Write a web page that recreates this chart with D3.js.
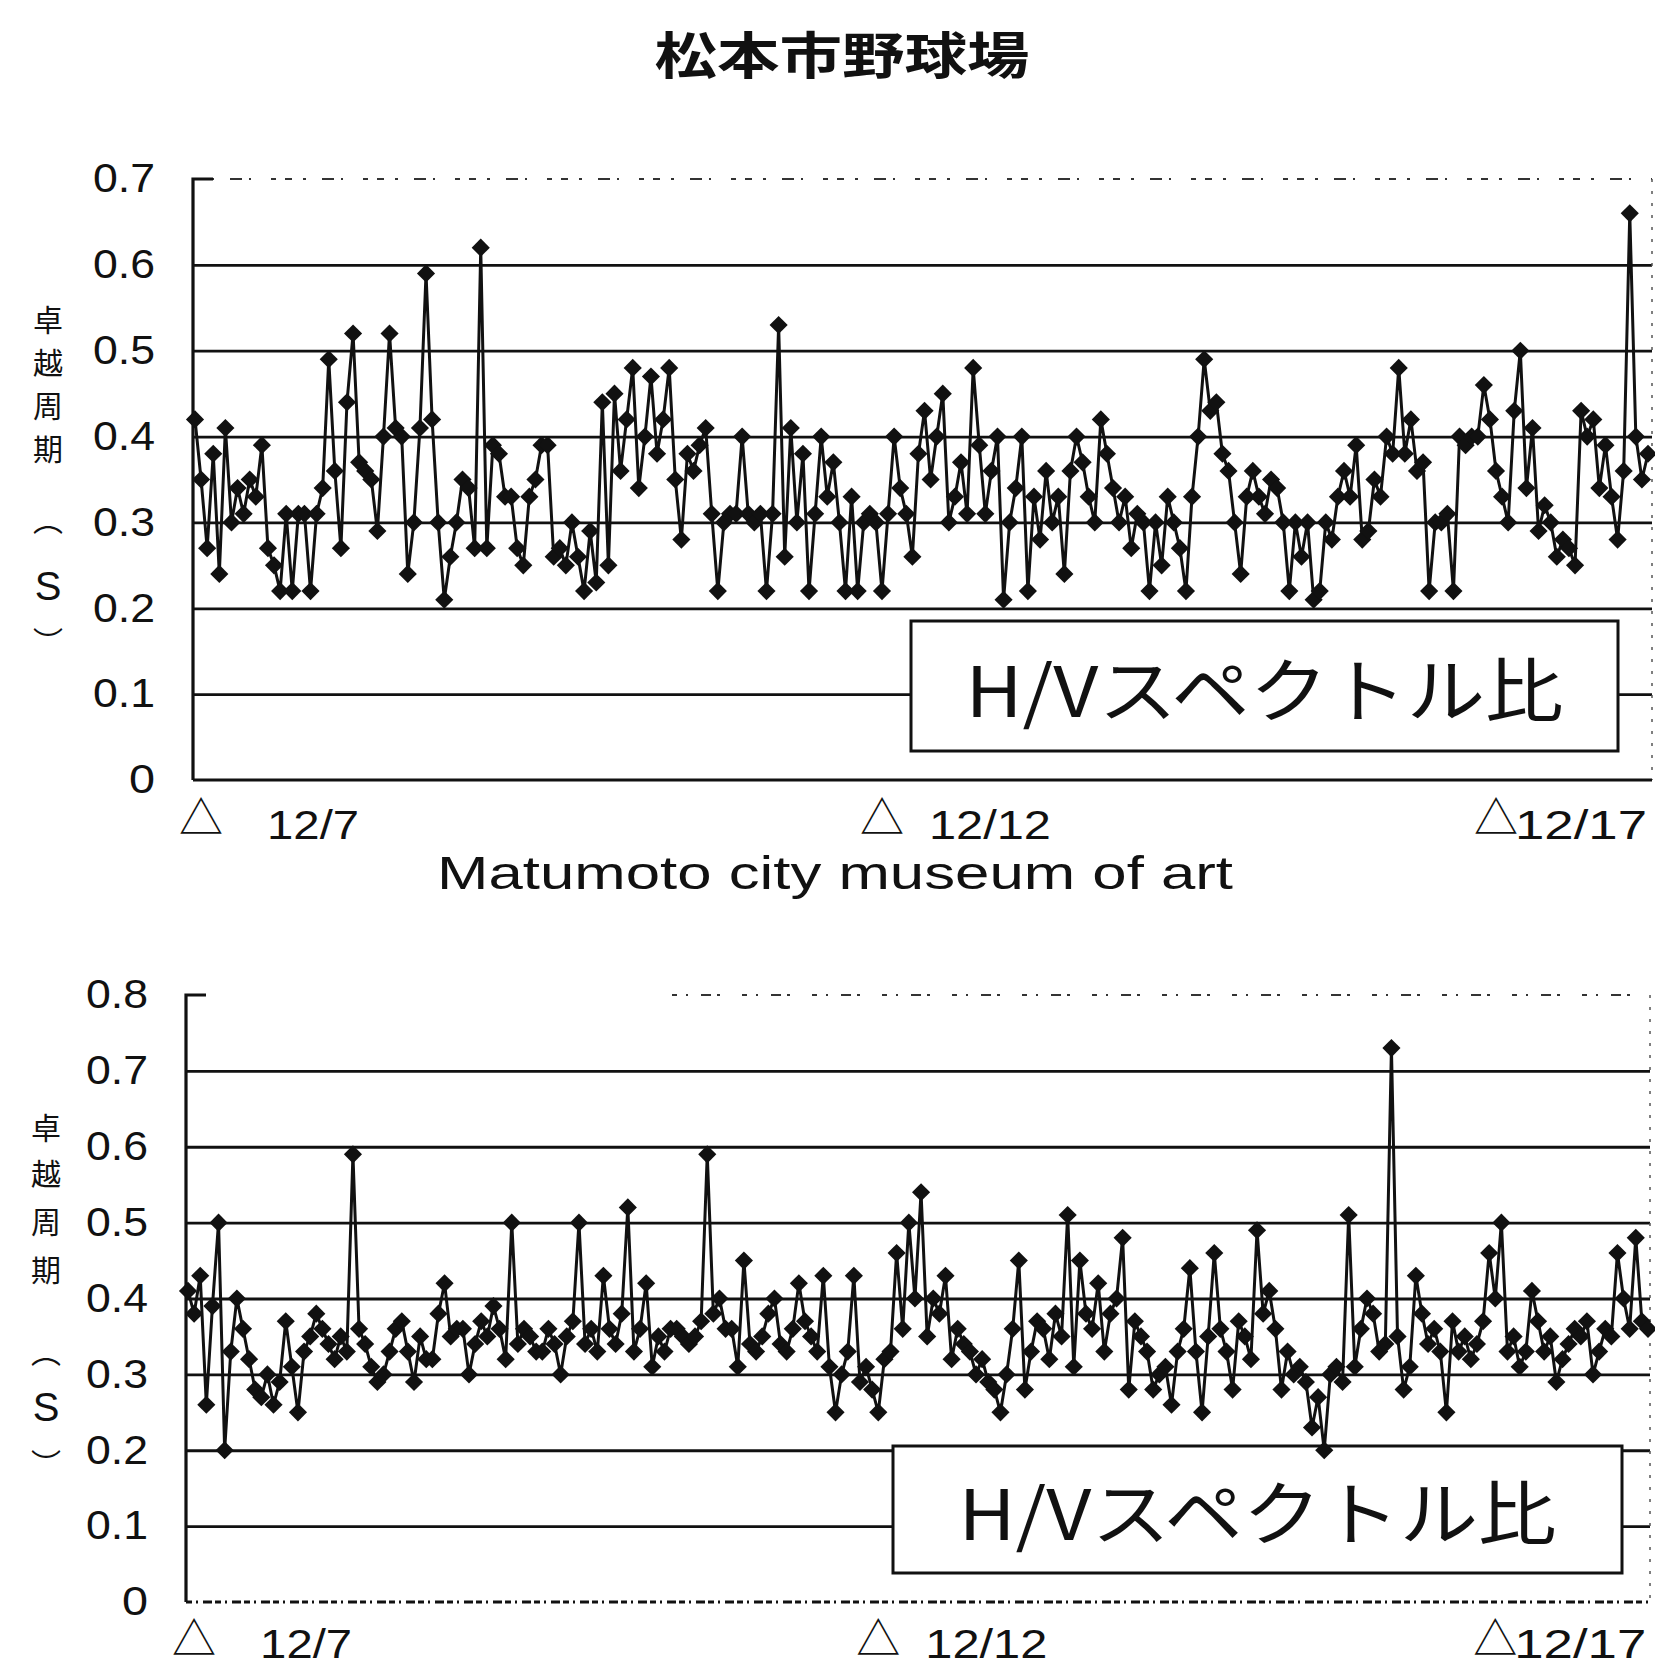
<!DOCTYPE html>
<html>
<head>
<meta charset="utf-8">
<script src="https://d3js.org/d3.v7.min.js"></script>
<title>松本市野球場 H/Vスペクトル比</title>
<style>
  body { margin: 0; background: #fff; }
  svg { display: block; background: #fff; }
  .num { font-family: "Liberation Sans", Arial, sans-serif; fill: #111; }
  .cjk { font-family: "Noto Sans CJK JP", sans-serif; fill: #111; }
</style>
</head>
<body>
<div id="chart"></div>
<script>
// 卓越周期 (s), hourly readings, 松本市野球場
var stadiumPeriod = [
  0.42,0.35,0.27,0.38,0.24,0.41,0.30,0.34,0.31,0.35,0.33,0.39,0.27,0.25,0.22,0.31,0.22,0.31,0.31,0.22,
  0.31,0.34,0.49,0.36,0.27,0.44,0.52,0.37,0.36,0.35,0.29,0.40,0.52,0.41,0.40,0.24,0.30,0.41,0.59,0.42,
  0.30,0.21,0.26,0.30,0.35,0.34,0.27,0.62,0.27,0.39,0.38,0.33,0.33,0.27,0.25,0.33,0.35,0.39,0.39,0.26,
  0.27,0.25,0.30,0.26,0.22,0.29,0.23,0.44,0.25,0.45,0.36,0.42,0.48,0.34,0.40,0.47,0.38,0.42,0.48,0.35,
  0.28,0.38,0.36,0.39,0.41,0.31,0.22,0.30,0.31,0.31,0.40,0.31,0.30,0.31,0.22,0.31,0.53,0.26,0.41,0.30,
  0.38,0.22,0.31,0.40,0.33,0.37,0.30,0.22,0.33,0.22,0.30,0.31,0.30,0.22,0.31,0.40,0.34,0.31,0.26,0.38,
  0.43,0.35,0.40,0.45,0.30,0.33,0.37,0.31,0.48,0.39,0.31,0.36,0.40,0.21,0.30,0.34,0.40,0.22,0.33,0.28,
  0.36,0.30,0.33,0.24,0.36,0.40,0.37,0.33,0.30,0.42,0.38,0.34,0.30,0.33,0.27,0.31,0.30,0.22,0.30,0.25,
  0.33,0.30,0.27,0.22,0.33,0.40,0.49,0.43,0.44,0.38,0.36,0.30,0.24,0.33,0.36,0.33,0.31,0.35,0.34,0.30,
  0.22,0.30,0.26,0.30,0.21,0.22,0.30,0.28,0.33,0.36,0.33,0.39,0.28,0.29,0.35,0.33,0.40,0.38,0.48,0.38,
  0.42,0.36,0.37,0.22,0.30,0.30,0.31,0.22,0.40,0.39,0.40,0.40,0.46,0.42,0.36,0.33,0.30,0.43,0.50,0.34,
  0.41,0.29,0.32,0.30,0.26,0.28,0.27,0.25,0.43,0.40,0.42,0.34,0.39,0.33,0.28,0.36,0.66,0.40,0.35,0.38
];

// 卓越周期 (s), Matumoto city museum of art
var museumPeriod = [
  0.41,0.38,0.43,0.26,0.39,0.50,0.20,0.33,0.40,0.36,0.32,0.28,0.27,0.30,0.26,0.29,0.37,0.31,0.25,0.33,
  0.35,0.38,0.36,0.34,0.32,0.35,0.33,0.59,0.36,0.34,0.31,0.29,0.30,0.33,0.36,0.37,0.33,0.29,0.35,0.32,
  0.32,0.38,0.42,0.35,0.36,0.36,0.30,0.34,0.37,0.35,0.39,0.36,0.32,0.50,0.34,0.36,0.35,0.33,0.33,0.36,
  0.34,0.30,0.35,0.37,0.50,0.34,0.36,0.33,0.43,0.36,0.34,0.38,0.52,0.33,0.36,0.42,0.31,0.35,0.33,0.36,
  0.36,0.35,0.34,0.35,0.37,0.59,0.38,0.40,0.36,0.36,0.31,0.45,0.34,0.33,0.35,0.38,0.40,0.34,0.33,0.36,
  0.42,0.37,0.35,0.33,0.43,0.31,0.25,0.30,0.33,0.43,0.29,0.31,0.28,0.25,0.32,0.33,0.46,0.36,0.50,0.40,
  0.54,0.35,0.40,0.38,0.43,0.32,0.36,0.34,0.33,0.30,0.32,0.29,0.28,0.25,0.30,0.36,0.45,0.28,0.33,0.37,
  0.36,0.32,0.38,0.35,0.51,0.31,0.45,0.38,0.36,0.42,0.33,0.38,0.40,0.48,0.28,0.37,0.35,0.33,0.28,0.30,
  0.31,0.26,0.33,0.36,0.44,0.33,0.25,0.35,0.46,0.36,0.33,0.28,0.37,0.35,0.32,0.49,0.38,0.41,0.36,0.28,
  0.33,0.30,0.31,0.29,0.23,0.27,0.20,0.30,0.31,0.29,0.51,0.31,0.36,0.40,0.38,0.33,0.34,0.73,0.35,0.28,
  0.31,0.43,0.38,0.34,0.36,0.33,0.25,0.37,0.33,0.35,0.32,0.34,0.37,0.46,0.40,0.50,0.33,0.35,0.31,0.33,
  0.41,0.37,0.33,0.35,0.29,0.32,0.34,0.36,0.35,0.37,0.30,0.33,0.36,0.35,0.46,0.40,0.36,0.48,0.37,0.36
];

var dateLabels = ["12/7", "12/12", "12/17"];
var dateIndex = [1, 113, 214];
var stadiumTicks = [0, 0.1, 0.2, 0.3, 0.4, 0.5, 0.6, 0.7];
var museumTicks = [0, 0.1, 0.2, 0.3, 0.4, 0.5, 0.6, 0.7, 0.8];
var yTitleChars = ["卓", "越", "周", "期", "︵", "S", "︶"];
var chartTitle = "松本市野球場";
var subTitle = "Matumoto city  museum of art";
var legendText = "H/Vスペクトル比";

var width = 1655;
var height = 1671;

var svg = d3.select("#chart")
  .append("svg")
  .attr("width", width)
  .attr("height", height);

var ink = "#111";
var dateGap = [66, 47, 19];
var dateWidth = [92, 122, 132];

var panels = [
  {
    values: stadiumPeriod, ticks: stadiumTicks, yMax: 0.7,
    axisX: 193, x0: 195, x1: 1648, right: 1652, yTop: 179, yBottom: 780,
    box: [911, 621, 707, 130],
    titleY: [318, 361, 404, 447, 518, 586, 640], titleX: 48,
    triY: 815, dateY: 839,
    topDash: "7,11,3,16,12,7,2,20,5,9", topFrom: 193, axisDash: null
  },
  {
    values: museumPeriod, ticks: museumTicks, yMax: 0.8,
    axisX: 186, x0: 188, x1: 1648, right: 1650, yTop: 995, yBottom: 1602,
    box: [893, 1446, 729, 127],
    titleY: [1126, 1172, 1220, 1268, 1350, 1407, 1462], titleX: 46,
    triY: 1636, dateY: 1658,
    topDash: "5,9,2,13,10,6,3,22", topFrom: 672, axisDash: "6,4,2,5,9,3"
  }
];

panels.forEach(drawPanel);

// title
svg.append("text")
  .attr("class", "cjk")
  .attr("x", 842)
  .attr("y", 52)
  .attr("text-anchor", "middle")
  .attr("dominant-baseline", "central")
  .attr("textLength", 375)
  .attr("lengthAdjust", "spacingAndGlyphs")
  .style("font-size", "50px")
  .style("font-weight", "bold")
  .text(chartTitle);

// second panel caption
svg.append("text")
  .attr("class", "num")
  .attr("x", 437)
  .attr("y", 889)
  .attr("textLength", 796)
  .attr("lengthAdjust", "spacingAndGlyphs")
  .style("font-size", "46px")
  .text(subTitle);

function drawPanel(p) {
  var x = d3.scaleLinear().domain([0, p.values.length - 1]).range([p.x0, p.x1]);
  var y = d3.scaleLinear().domain([0, p.yMax]).range([p.yBottom, p.yTop]);
  var g = svg.append("g");

  // horizontal gridlines
  g.append("g")
    .attr("transform", "translate(" + p.axisX + ",0)")
    .call(d3.axisRight(y)
      .tickValues(p.ticks.filter(function(t) { return t > 0 && t < p.yMax; }))
      .tickSize(p.right - p.axisX)
      .tickFormat(""))
    .call(function(s) { s.select(".domain").remove(); })
    .selectAll("line")
    .attr("stroke", ink)
    .attr("stroke-width", 2.8);

  // broken top border (scan)
  g.append("line")
    .attr("x1", p.topFrom).attr("x2", p.right)
    .attr("y1", y(p.yMax)).attr("y2", y(p.yMax))
    .attr("stroke", "#333")
    .attr("stroke-width", 2)
    .attr("stroke-dasharray", p.topDash);

  // right border, faint
  g.append("line")
    .attr("x1", p.right).attr("x2", p.right)
    .attr("y1", p.yTop).attr("y2", p.yBottom)
    .attr("stroke", "#555")
    .attr("stroke-width", 1.5)
    .attr("stroke-dasharray", "3,9");

  // y axis labels
  g.append("g")
    .attr("transform", "translate(" + p.axisX + ",0)")
    .call(d3.axisLeft(y)
      .tickValues(p.ticks)
      .tickSize(0)
      .tickPadding(38)
      .tickFormat(function(d) { return d === 0 ? "0" : d3.format(".1f")(d); }))
    .call(function(s) { s.select(".domain").remove(); })
    .selectAll("text")
    .attr("class", "num")
    .attr("fill", ink)
    .attr("textLength", function(d) { return d === 0 ? 26 : 62; })
    .attr("lengthAdjust", "spacingAndGlyphs")
    .style("font-size", "40px");

  // left axis with the little stub at the top
  g.append("path")
    .attr("d", "M" + (p.axisX + 20) + "," + p.yTop + "H" + p.axisX + "V" + p.yBottom)
    .attr("fill", "none")
    .attr("stroke", ink)
    .attr("stroke-width", 3.2);

  // x axis
  g.append("line")
    .attr("x1", p.axisX).attr("x2", p.right)
    .attr("y1", p.yBottom).attr("y2", p.yBottom)
    .attr("stroke", ink)
    .attr("stroke-width", 2.8)
    .attr("stroke-dasharray", p.axisDash);

  // legend box
  g.append("rect")
    .attr("x", p.box[0]).attr("y", p.box[1])
    .attr("width", p.box[2]).attr("height", p.box[3])
    .attr("fill", "#fff")
    .attr("stroke", ink)
    .attr("stroke-width", 3);

  g.append("text")
    .attr("class", "cjk")
    .attr("x", p.box[0] + p.box[2] / 2)
    .attr("y", p.box[1] + p.box[3] / 2)
    .attr("text-anchor", "middle")
    .attr("dominant-baseline", "central")
    .attr("textLength", 598)
    .attr("lengthAdjust", "spacingAndGlyphs")
    .style("font-size", "70px")
    .text(legendText);

  // series
  var line = d3.line()
    .x(function(d, i) { return x(i); })
    .y(function(d) { return y(d); });

  g.append("path")
    .datum(p.values)
    .attr("d", line)
    .attr("fill", "none")
    .attr("stroke", ink)
    .attr("stroke-width", 3)
    .attr("stroke-linejoin", "round");

  g.selectAll(".pt")
    .data(p.values)
    .enter().append("path")
    .attr("class", "pt")
    .attr("transform", function(d, i) { return "translate(" + x(i) + "," + y(d) + ")"; })
    .attr("d", d3.symbol().type(d3.symbolDiamond2).size(210))
    .attr("fill", ink);

  // date marks
  dateLabels.forEach(function(lbl, k) {
    var cx = x(dateIndex[k]);
    g.append("text")
      .attr("class", "cjk")
      .attr("x", cx)
      .attr("y", p.triY)
      .attr("text-anchor", "middle")
      .attr("dominant-baseline", "central")
      .style("font-size", "44px")
      .text("△");
    g.append("text")
      .attr("class", "num")
      .attr("x", cx + dateGap[k])
      .attr("y", p.dateY)
      .attr("textLength", dateWidth[k])
      .attr("lengthAdjust", "spacingAndGlyphs")
      .style("font-size", "40px")
      .text(lbl);
  });

  // vertical y title
  yTitleChars.forEach(function(ch, k) {
    g.append("text")
      .attr("class", ch === "S" ? "num" : "cjk")
      .attr("x", p.titleX)
      .attr("y", p.titleY[k])
      .attr("text-anchor", "middle")
      .attr("dominant-baseline", "central")
      .style("font-size", ch === "S" ? "40px" : "30px")
      .text(ch);
  });
}
</script>
</body>
</html>
